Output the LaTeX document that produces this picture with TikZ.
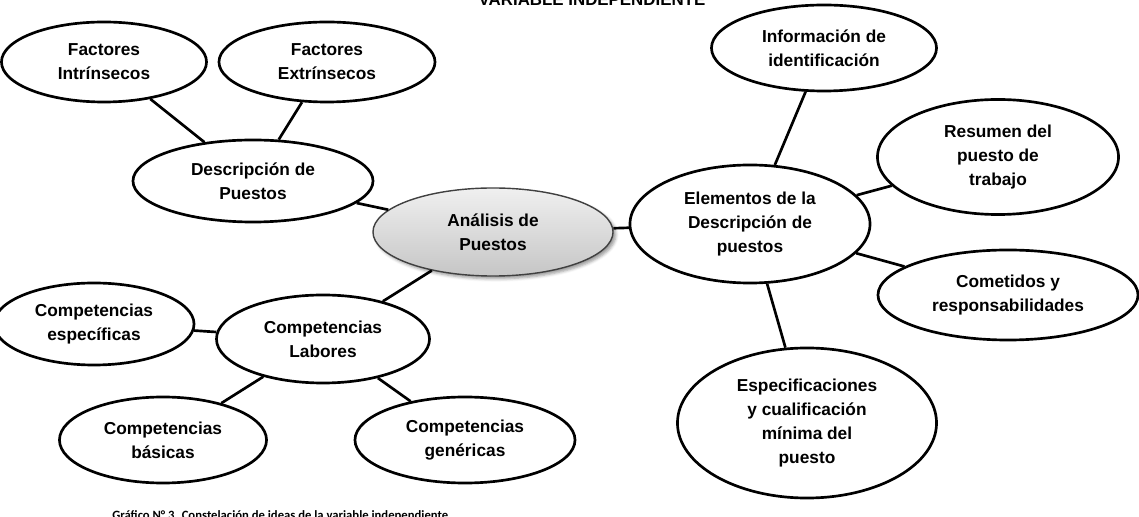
\documentclass[tikz,border=0pt]{standalone}
\usepackage{fontspec}
\setmainfont{Liberation Sans}
\newfontfamily\notafont{Carlito}
\usetikzlibrary{shapes.geometric, shadows.blur}

\tikzset{
  idea/.style={ellipse, draw=black, line width=1.9pt, fill=white,
    inner sep=0pt, align=center,
    font=\fontsize{12.3}{17}\selectfont\bfseries},
  enlace/.style={line width=1.9pt},
}

\begin{document}
\begin{tikzpicture}[x=0.025cm, y=-0.025cm]
  \useasboundingbox (0,0) rectangle (1139,517);

  % titulo y nota
  \node[anchor=base, font=\fontsize{12}{14}\selectfont\bfseries] (titulo) at (592,5.5)
    {VARIABLE INDEPENDIENTE};
  \node[anchor=north west, inner sep=0pt, font=\notafont\fontsize{9}{11}\selectfont\bfseries]
    (nota) at (112,510) {Gráfico N° 3. Constelación de ideas de la variable independiente};

  % nodo central
  \node[idea, draw=black!75, line width=1pt, top color=gray!12, bottom color=gray!45,
    blur shadow={shadow xshift=2pt, shadow yshift=-2pt},
    minimum width=6cm, minimum height=2.2cm] (analisis) at (493,232)
    {Análisis de\\Puestos};

  % rama izquierda superior
  \node[idea, minimum width=6cm, minimum height=2.05cm] (descripcion) at (253,181)
    {Descripción de\\Puestos};
  \node[idea, minimum width=5.125cm, minimum height=2cm] (intrinsecos) at (104,62)
    {Factores\\Intrínsecos};
  \node[idea, minimum width=5.4cm, minimum height=2cm] (extrinsecos) at (327,62)
    {Factores\\Extrínsecos};

  % rama izquierda inferior
  \node[idea, minimum width=5.325cm, minimum height=2.2cm] (labores) at (323,339)
    {Competencias\\Labores};
  \node[idea, minimum width=5cm, minimum height=2.05cm] (especificas) at (94,324)
    {Competencias\\específicas};
  \node[idea, minimum width=5.175cm, minimum height=2.15cm] (basicas) at (163,440)
    {Competencias\\básicas};
  \node[idea, minimum width=5.5cm, minimum height=2.15cm] (genericas) at (465,440)
    {Competencias\\genéricas};

  % rama derecha
  \node[idea, minimum width=6cm, minimum height=2.95cm] (elementos) at (750,224)
    {Elementos de la\\Descripción de\\puestos};
  \node[idea, minimum width=5.625cm, minimum height=2.15cm] (identificacion) at (824,48)
    {Información de\\identificación};
  \node[idea, minimum width=6.025cm, minimum height=2.875cm] (resumen) at (998,157)
    {Resumen del\\puesto de\\trabajo};
  \node[idea, minimum width=6.5cm, minimum height=2.25cm] (cometidos) at (1008,295)
    {Cometidos y\\responsabilidades};
  \node[idea, minimum width=6.475cm, minimum height=3.75cm] (especificaciones) at (807,423)
    {Especificaciones\\y cualificación\\mínima del\\puesto};

  % enlaces
  \draw[enlace] (analisis) -- (descripcion);
  \draw[enlace] (descripcion) -- (intrinsecos);
  \draw[enlace] (descripcion) -- (extrinsecos);
  \draw[enlace] (analisis) -- (labores);
  \draw[enlace] (labores) -- (especificas);
  \draw[enlace] (labores) -- (basicas);
  \draw[enlace] (labores) -- (genericas);
  \draw[enlace] (analisis) -- (elementos);
  \draw[enlace] (elementos) -- (identificacion);
  \draw[enlace] (elementos) -- (resumen);
  \draw[enlace] (elementos) -- (cometidos);
  \draw[enlace] (elementos) -- (especificaciones);
\end{tikzpicture}
\end{document}
